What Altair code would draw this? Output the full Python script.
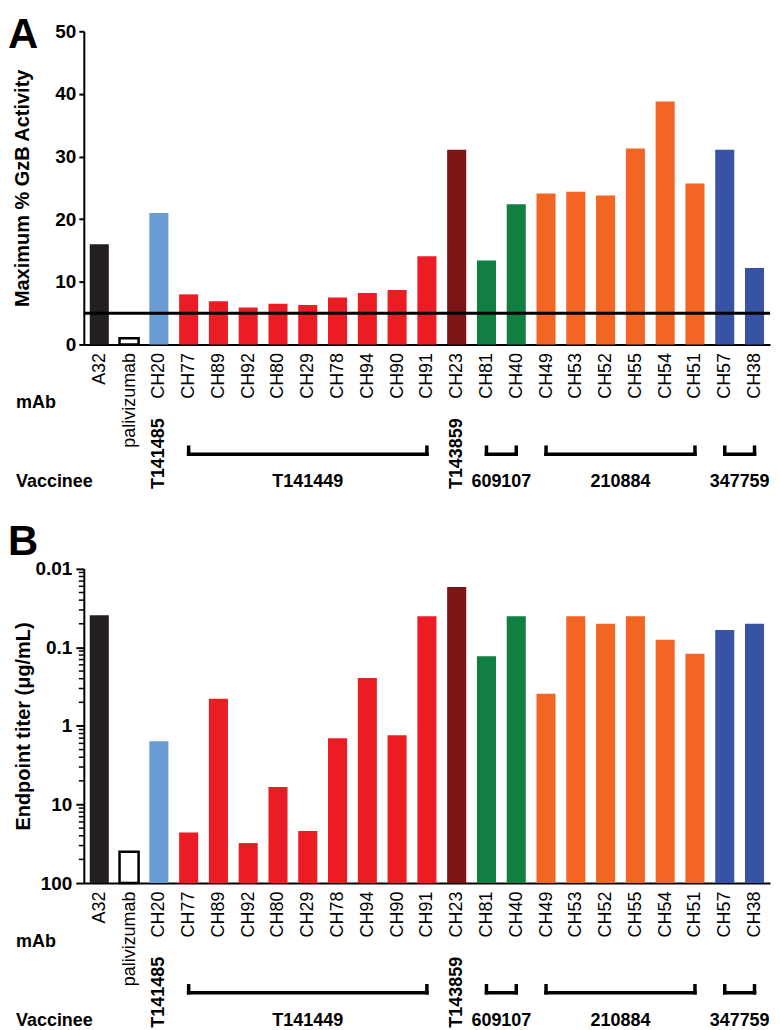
import json
import altair as alt
import pandas as pd

mabs = ["A32", "palivizumab", "CH20", "CH77", "CH89", "CH92", "CH80", "CH29", "CH78",
        "CH94", "CH90", "CH91", "CH23", "CH81", "CH40", "CH49", "CH53", "CH52", "CH55",
        "CH54", "CH51", "CH57", "CH38"]
vaccinee = ["A32", "palivizumab", "T141485"] + ["T141449"] * 9 + ["T143859"] + \
           ["609107"] * 2 + ["210884"] * 6 + ["347759"] * 2
gzb = [16.0, 1.0, 21.0, 8.0, 6.9, 5.9, 6.5, 6.3, 7.5, 8.2, 8.7, 14.1, 31.1, 13.4, 22.4,
       24.1, 24.4, 23.8, 31.3, 38.8, 25.7, 31.1, 12.2]
titer = [0.039, 40, 1.56, 22.8, 0.45, 31, 6.0, 21.8, 1.43, 0.245, 1.31, 0.040, 0.017,
         0.13, 0.040, 0.39, 0.040, 0.050, 0.040, 0.080, 0.12, 0.060, 0.050]
gzb_threshold = [5]

bracket_names = ["T141449", "609107", "210884", "347759"]
bracket_first = ["CH77", "CH81", "CH49", "CH57"]
bracket_last = ["CH91", "CH40", "CH51", "CH38"]
single_names = ["T141485", "T143859"]
single_mab = ["CH20", "CH23"]

titer_ticks = [0.01, 0.1, 1, 10, 100]
minor_ticks = [d / k for d in [0.1, 1, 10, 100] for k in range(2, 10)]

group_order = ["A32", "palivizumab", "T141485", "T141449", "T143859", "609107", "210884", "347759"]
group_colors = ["#231f20", "#ffffff", "#6a9bd3", "#ec1c24", "#7d1416", "#107f41", "#f26522", "#3953a4"]

pos = {m: i for i, m in enumerate(mabs)}
bars = pd.DataFrame({"mAb": mabs, "idx": list(range(len(mabs))), "group": vaccinee,
                     "gzb": gzb, "titer": titer})
brk = pd.DataFrame({"name": bracket_names,
                    "s": [pos[m] for m in bracket_first],
                    "e": [pos[m] for m in bracket_last]})
brk["mid"] = (brk["s"] + brk["e"]) / 2
ends = pd.DataFrame({"p": list(brk["s"]) + list(brk["e"])})
singles = pd.DataFrame({"name": single_names, "p": [pos[m] for m in single_mab]})

W = 688
HA = 314
HB = 315
FONT = "Liberation Sans"
HALF = 0.32

xscale = alt.Scale(domain=[-0.52, len(mabs) - 1 + 0.52], nice=False, zero=False)
xaxis = alt.Axis(values=list(range(len(mabs))), labelExpr=json.dumps(mabs) + "[datum.value]",
                 ticks=False, grid=False, domainColor="black", domainWidth=2,
                 labelAngle=270, labelAlign="right", labelBaseline="middle",
                 labelFontSize=18, labelFont=FONT, labelColor="black", labelPadding=8,
                 labelOverlap=False, labelFlush=False, title=None)


def X(field):
    return alt.X(field, scale=xscale, axis=xaxis)


def annotations(H, letter):
    layers = []
    layers.append(alt.Chart(pd.DataFrame({"t": [letter]})).mark_text(
        font=FONT, fontSize=42, fontWeight="bold", align="left", baseline="alphabetic", color="black"
    ).encode(text="t:N", x=alt.value(-76), y=alt.value(17 if letter == "A" else -14)))
    layers.append(alt.Chart(pd.DataFrame({"t": ["mAb"]})).mark_text(
        font=FONT, fontSize=18, fontWeight="bold", align="left", baseline="middle", color="black"
    ).encode(text="t:N", x=alt.value(-68), y=alt.value(H + 59)))
    layers.append(alt.Chart(pd.DataFrame({"t": ["Vaccinee"]})).mark_text(
        font=FONT, fontSize=18, fontWeight="bold", align="left", baseline="middle", color="black"
    ).encode(text="t:N", x=alt.value(-68), y=alt.value(H + 138)))
    layers.append(alt.Chart(singles).mark_text(
        font=FONT, fontSize=18, fontWeight="bold", angle=270, align="left", baseline="middle", color="black"
    ).encode(text="name:N", x=X("p:Q"), y=alt.value(H + 145)))
    layers.append(alt.Chart(brk).mark_text(
        font=FONT, fontSize=18, fontWeight="bold", align="center", baseline="middle", color="black"
    ).encode(text="name:N", x=X("mid:Q"), y=alt.value(H + 138)))
    layers.append(alt.Chart(brk).mark_rule(strokeWidth=3.5, color="black", strokeCap="square").encode(
        x=X("s:Q"), x2="e:Q", y=alt.value(H + 110)))
    layers.append(alt.Chart(ends).mark_rule(strokeWidth=3.5, color="black", strokeCap="square").encode(
        x=X("p:Q"), y=alt.value(H + 103), y2=alt.value(H + 110)))
    return layers


color = alt.Color("group:N", scale=alt.Scale(domain=group_order, range=group_colors), legend=None)

# Panel A
yA_scale = alt.Scale(domain=[0, 50], nice=False)
yA_axis = alt.Axis(values=[0, 10, 20, 30, 40, 50], tickSize=5, tickWidth=2, tickColor="black",
                   domainColor="black", domainWidth=2, labelFontSize=19, labelFontWeight="bold",
                   labelFont=FONT, labelColor="black", labelPadding=3, grid=False,
                   title="Maximum % GzB Activity", titleFont=FONT, titleFontSize=20,
                   titleFontWeight="bold", titleColor="black", titleX=-61, titleY=HA / 2,
                   titleAngle=270, titleAlign="center", titleBaseline="middle")


def YA(field):
    return alt.Y(field, scale=yA_scale, axis=yA_axis)


baseA = alt.Chart(bars).transform_calculate(x0=f"datum.idx - {HALF}", x1=f"datum.idx + {HALF}")
barsA = baseA.mark_bar().encode(x=X("x0:Q"), x2="x1:Q", y=YA("gzb:Q"), y2=alt.Y2Datum(0), color=color)
outlineA = baseA.transform_filter("datum.mAb == 'palivizumab'").mark_bar(
    fillOpacity=0, stroke="black", strokeWidth=2.5).encode(
    x=X("x0:Q"), x2="x1:Q", y=YA("gzb:Q"), y2=alt.Y2Datum(0))
ruleA = alt.Chart(pd.DataFrame({"v": gzb_threshold})).mark_rule(strokeWidth=3, color="black").encode(
    y=YA("v:Q"))
panelA = alt.layer(barsA, outlineA, ruleA, *annotations(HA, "A")).properties(width=W, height=HA)

# Panel B
yB_scale = alt.Scale(type="log", domain=[0.01, 100], reverse=True, nice=False)
yB_axis = alt.Axis(values=titer_ticks, format="~g", tickSize=8, tickWidth=2, tickColor="black",
                   domainColor="black", domainWidth=2, labelFontSize=19, labelFontWeight="bold",
                   labelFont=FONT, labelColor="black", labelPadding=4, grid=False,
                   title="Endpoint titer (μg/mL)", titleFont=FONT, titleFontSize=20,
                   titleFontWeight="bold", titleColor="black", titleX=-60, titleY=HB / 2,
                   titleAngle=270, titleAlign="center", titleBaseline="middle")


def YB(field):
    return alt.Y(field, scale=yB_scale, axis=yB_axis)


baseB = alt.Chart(bars).transform_calculate(x0=f"datum.idx - {HALF}", x1=f"datum.idx + {HALF}")
barsB = baseB.mark_bar().encode(x=X("x0:Q"), x2="x1:Q", y=YB("titer:Q"), y2=alt.Y2Datum(100), color=color)
outlineB = baseB.transform_filter("datum.mAb == 'palivizumab'").mark_bar(
    fillOpacity=0, stroke="black", strokeWidth=2.5).encode(
    x=X("x0:Q"), x2="x1:Q", y=YB("titer:Q"), y2=alt.Y2Datum(100))
minorB = alt.Chart(pd.DataFrame({"v": minor_ticks})).mark_tick(
    orient="horizontal", size=5, thickness=1.5, color="black", opacity=1).encode(
    y=YB("v:Q"), x=alt.value(-2.5))
panelB = alt.layer(barsB, outlineB, minorB, *annotations(HB, "B")).properties(width=W, height=HB)

chart = alt.vconcat(panelA, panelB, spacing=30).properties(
    padding={"top": 5, "left": 0, "right": 0, "bottom": 0}, background="white"
).configure_view(stroke=None)

chart.save("out.html", embed_options={"renderer": "svg", "actions": False})
